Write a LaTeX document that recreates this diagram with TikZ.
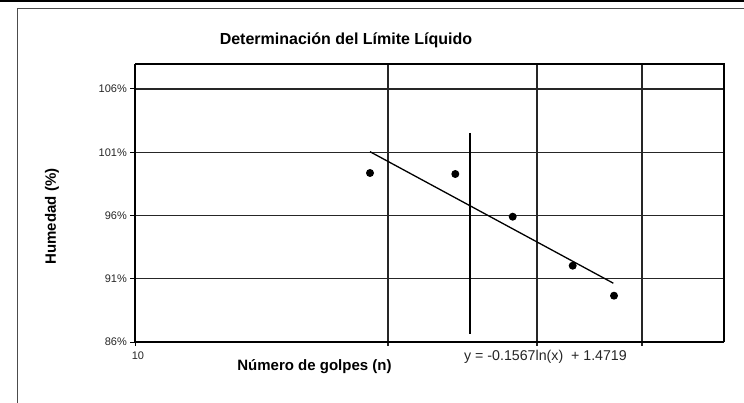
\documentclass[tikz,border=0pt]{standalone}
\usepackage{fontspec}
\setmainfont{Liberation Sans}
\begin{document}
\begin{tikzpicture}[x=1pt,y=-1pt,
  grid/.style={line width=1.2pt,draw=black!85},
  frameline/.style={line width=1pt,draw=black},
  axisbox/.style={line width=2pt,draw=black},
  ticklab/.style={anchor=east,inner sep=0pt,font=\fontsize{11}{12}\selectfont,text=black!85},
  boldlab/.style={inner sep=0pt,font=\fontsize{15}{17}\bfseries\selectfont},
  dot/.style={circle,fill=black,inner sep=0pt,minimum size=8pt},
  trend/.style={line width=1.3pt,draw=black},
  marker/.style={line width=2.6pt,draw=black}]
\useasboundingbox (0,0) rectangle (744,403);
% outer frame
\draw[line width=1.6pt] (0,1) -- (744,1);
\draw[frameline,draw=black!70] (17.3,403) -- (17.3,8.3) -- (744,8.3);
% title
\node[inner sep=0pt,font=\fontsize{16}{18}\bfseries\selectfont] (title) at (346,40) {Determinación del Límite Líquido};
% grid
\foreach \yy in {89,152.25,215.5,278.75} \draw[grid] (135,\yy) -- (724,\yy);
\foreach \xx in {388,537,642} \draw[grid] (\xx,64) -- (\xx,346);
% axis box
\draw[axisbox,line width=1.6pt] (135,64) -- (724,64) -- (724,342);
\draw[axisbox,line width=2.4pt] (135,64) -- (135,342) -- (724,342);
% y ticks and labels
\foreach \yy/\lab [count=\i] in {342/86\%,278.75/91\%,215.5/96\%,152.25/101\%,89/106\%} {
  \draw[line width=1pt] (130,\yy) -- (135,\yy);
  \node[ticklab] (yl\i) at (127,\yy) {\lab};
}
\draw[line width=1pt] (135,342) -- (135,346);
\node[inner sep=0pt,font=\fontsize{11}{12}\selectfont,text=black!85] (xl) at (138,356) {10};
% axis labels
\node[boldlab] (xlabel) at (314.5,367) {Número de golpes (n)};
\node[boldlab,rotate=90] (ylabel) at (52,216.5) {Humedad (\%)};
% trend line
\coordinate (t1) at (370,151.7);
\coordinate (t2) at (613.3,283.2);
\draw[trend] (t1) -- (t2);
% vertical marker at n = 25
\coordinate (m1) at (470,133);
\coordinate (m2) at (470,334);
\draw[marker] (m1) -- (m2);
% data points
\node[dot] (p1) at (370,173) {};
\node[dot] (p2) at (455.3,174) {};
\node[dot] (p3) at (512.7,216.7) {};
\node[dot] (p4) at (572.7,265.7) {};
\node[dot] (p5) at (614,295.7) {};
% equation
\node[inner sep=0pt,font=\fontsize{14.2}{16}\selectfont,text=black!85] (eq) at (545.5,356.5) {y = -0.1567ln(x)\ \ + 1.4719};
\end{tikzpicture}
\end{document}
